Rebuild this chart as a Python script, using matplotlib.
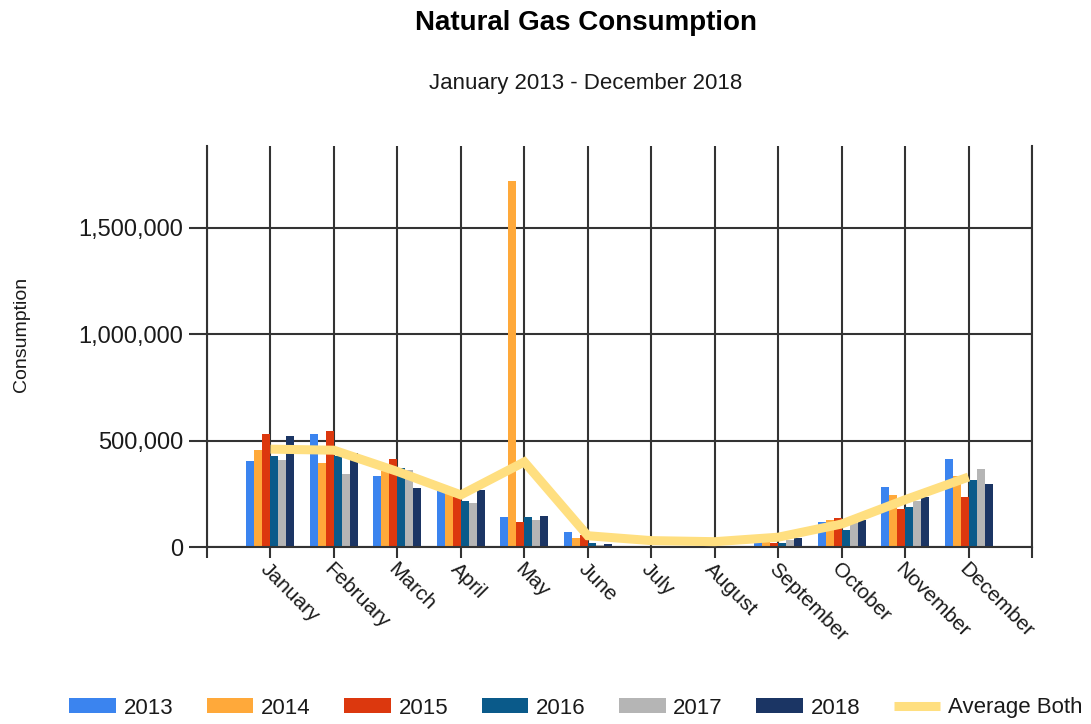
import matplotlib
matplotlib.use("Agg")
import matplotlib.pyplot as plt
import numpy as np
from matplotlib.ticker import FuncFormatter

months = ["January", "February", "March", "April", "May", "June", "July",
          "August", "September", "October", "November", "December"]
years = ["2013", "2014", "2015", "2016", "2017", "2018"]

v2013 = [405000, 533000, 335000, 261000, 140000, 69000, 7000, 3000, 55000, 117000, 284000, 414000]
v2014 = [454000, 395000, 355000, 249000, 1720000, 41000, 4000, 2000, 30000, 127000, 245000, 332000]
v2015 = [533000, 544000, 415000, 234000, 119000, 57000, 3000, 2000, 20000, 138000, 179000, 237000]
v2016 = [428000, 430000, 371000, 217000, 140000, 17000, 6000, 3000, 19000, 80000, 190000, 316000]
v2017 = [410000, 344000, 360000, 206000, 127000, 10000, 4000, 3000, 35000, 113000, 214000, 366000]
v2018 = [524000, 442000, 277000, 269000, 148000, 14000, 5000, 3000, 41000, 127000, 233000, 297000]
avg_both = [460000, 455000, 355000, 245000, 400000, 53000, 30000, 25000, 46000, 108000, 222000, 329000]

series = [v2013, v2014, v2015, v2016, v2017, v2018]
colors = ["#3B84EF", "#FFA93A", "#DC380E", "#0A5A8A", "#B5B5B5", "#1B3564"]
line_color = "#FFDF80"
grid_color = "#333333"
text_color = "#1a1a1a"
FONT = "Liberation Sans"

fig = plt.figure(figsize=(10.91, 7.24), dpi=100)
ax = fig.add_axes([207/1091, 1 - 547/724, (1032-207)/1091, (547-146)/724])

x = np.arange(len(months))
bw = 0.126
handles = []
for i, (vals, col, yr) in enumerate(zip(series, colors, years)):
    h = ax.bar(x + (i - 2.5) * bw, vals, width=bw, color=col, label=yr, zorder=2, linewidth=0)
    handles.append(h)

ln, = ax.plot(x, avg_both, color=line_color, lw=6.5, label="Average Both", zorder=3,
              solid_capstyle="butt", solid_joinstyle="miter")
handles.append(ln)

ax.set_xlim(-1, 12)
ax.set_ylim(0, 1.885e6)
ax.set_xticks(np.arange(-1, 13))
ax.set_xticklabels([""] + months + [""], rotation=-45, ha="left", va="top",
                   rotation_mode="anchor", fontsize=15, family=FONT, color=text_color)
ax.set_yticks([0, 500000, 1000000, 1500000])
ax.yaxis.set_major_formatter(FuncFormatter(lambda v, p: f"{int(v):,}"))
for lab in ax.get_yticklabels():
    lab.set_fontsize(17)
    lab.set_family(FONT)
    lab.set_color(text_color)

ax.tick_params(axis="y", length=13, width=1.5, color=grid_color, pad=4)
ax.tick_params(axis="x", length=8, width=1.5, color=grid_color, pad=1)
ax.grid(True, color=grid_color, lw=1.5, zorder=0)
ax.set_axisbelow(True)
ax.spines["top"].set_visible(False)
for s in ["left", "right", "bottom"]:
    ax.spines[s].set_color(grid_color)
    ax.spines[s].set_linewidth(1.5)

fig.text(22/1091, 1 - 334/724, "Consumption", rotation=90, ha="center", va="center",
         fontsize=14, family=FONT, color=text_color)
fig.text(586/1091, 1 - 23/724, "Natural Gas Consumption", ha="center", va="center",
         fontsize=20, fontweight="bold", family=FONT, color="black")
fig.text(586/1091, 1 - 84/724, "January 2013 - December 2018", ha="center", va="center",
         fontsize=16, family=FONT, color=text_color)

leg = fig.legend(handles=handles, labels=years + ["Average Both"],
                 loc="center", bbox_to_anchor=(576/1091, 1 - 708/724), ncol=7,
                 frameon=False, prop={"family": FONT, "size": 16},
                 handlelength=2.1, handleheight=0.68, handletextpad=0.35,
                 columnspacing=1.5, borderaxespad=0)
for t in leg.get_texts():
    t.set_color(text_color)

fig.savefig("out.png", dpi=100)
